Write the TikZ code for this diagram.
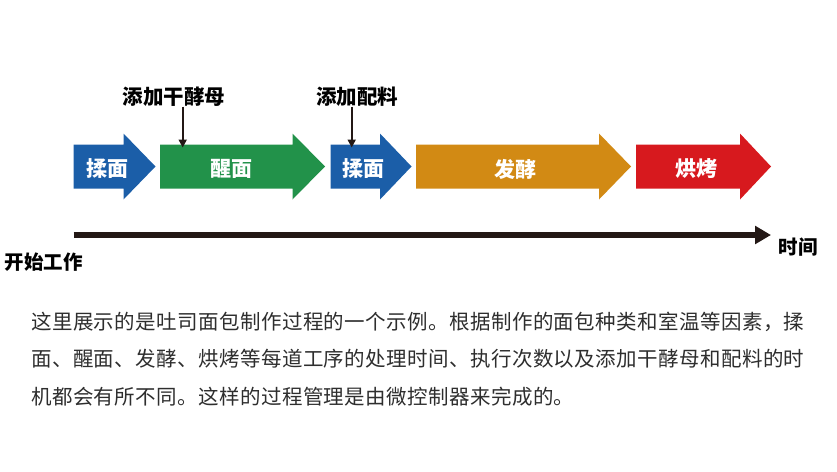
\documentclass[tikz,border=0pt]{standalone}
\usepackage{fontspec}
\setmainfont{Noto Sans CJK SC}
\usetikzlibrary{arrows.meta}
\definecolor{cblue}{HTML}{1B5EA8}
\definecolor{cgreen}{HTML}{22924A}
\definecolor{corange}{HTML}{D28A14}
\definecolor{cred}{HTML}{D7191E}
\definecolor{cdark}{HTML}{231815}
\begin{document}
\begin{tikzpicture}[x=1pt,y=-1pt,
  stagelabel/.style={font=\fontsize{21}{21}\selectfont\bfseries, text=white, inner sep=0pt},
  notelabel/.style={font=\fontsize{20.5}{20.5}\selectfont\bfseries, text=black, inner sep=0pt},
  axislabel/.style={font=\fontsize{19.5}{19.5}\selectfont\bfseries, text=black, inner sep=0pt},
  bodytext/.style={font=\fontsize{20.5}{20.5}\selectfont\addfontfeature{LetterSpace=2}, text=black!82, inner sep=0pt, anchor=west},
  notearrow/.style={draw=cdark, line width=2pt, -{Triangle[length=8pt,width=8pt]}},
  timearrow/.style={draw=cdark, line width=5.5pt, -{Triangle[length=16pt,width=17.5pt]}}
]
\useasboundingbox (0,0) rectangle (837,471);
% stage arrows
\fill[cblue] (73.5,144.5) -- (123.5,144.5) -- (123.5,133.5) -- (155.5,166.5) -- (123.5,199.5) -- (123.5,188.5) -- (73.5,188.5) -- cycle;
\fill[cgreen] (160,144.5) -- (292.5,144.5) -- (292.5,133.5) -- (325,166.5) -- (292.5,199.5) -- (292.5,188.5) -- (160,188.5) -- cycle;
\fill[cblue] (330.5,144.5) -- (380,144.5) -- (380,133.5) -- (411.5,166.5) -- (380,199.5) -- (380,188.5) -- (330.5,188.5) -- cycle;
\fill[corange] (416,144.5) -- (599,144.5) -- (599,133.5) -- (631,166.5) -- (599,199.5) -- (599,188.5) -- (416,188.5) -- cycle;
\fill[cred] (636,144.5) -- (740,144.5) -- (740,133.5) -- (771,166.5) -- (740,199.5) -- (740,188.5) -- (636,188.5) -- cycle;
\node[stagelabel] (s1) at (107.5,169) {揉面};
\node[stagelabel] (s2) at (231.7,169) {醒面};
\node[stagelabel] (s3) at (363,169) {揉面};
\node[stagelabel] (s4) at (515,169) {发酵};
\node[stagelabel] (s5) at (696.7,169) {烘烤};
% annotations
\node[notelabel] (n1) at (174,96.7) {添加干酵母};
\node[notelabel] (n2) at (357,96.7) {添加配料};
\coordinate (t1) at (182.7,147.5);
\coordinate (t2) at (351.7,147.5);
\draw[notearrow] (n1.south -| t1) -- (t1);
\draw[notearrow] (n2.south -| t2) -- (t2);
% time axis
\coordinate (a0) at (73.5,235);
\coordinate (a1) at (771,235);
\draw[timearrow] (a0) -- (a1);
\node[axislabel, anchor=west] (tm) at (778.5,247) {时间};
\node[axislabel, anchor=west] (st) at (4.5,262) {开始工作};
% paragraph
\node[bodytext] (p1) at (31,321.5) {这里展示的是吐司面包制作过程的一个示例。根据制作的面包种类和室温等因素，揉};
\node[bodytext] (p2) at (31,359) {面、醒面、发酵、烘烤等每道工序的处理时间、执行次数以及添加干酵母和配料的时};
\node[bodytext] (p3) at (31,396.5) {机都会有所不同。这样的过程管理是由微控制器来完成的。};
\end{tikzpicture}
\end{document}
